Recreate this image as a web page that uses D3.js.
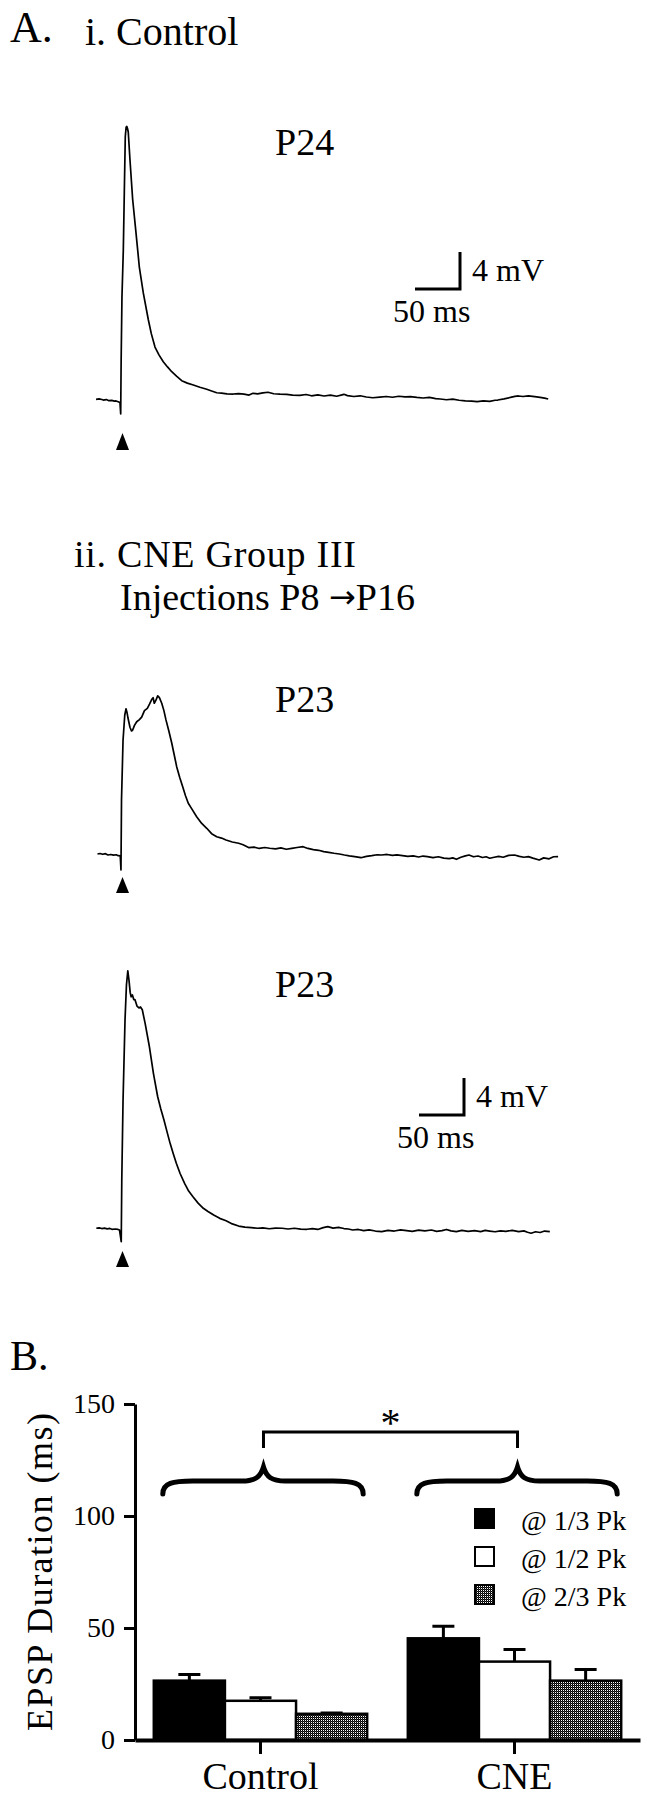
<!DOCTYPE html>
<html><head><meta charset="utf-8">
<script src="https://cdn.jsdelivr.net/npm/d3@7"></script>
<style>
body{margin:0;background:#fff}
svg{display:block;background:#fff}
text{font-family:"Liberation Serif","Times New Roman",serif;fill:#000}
</style>
</head><body>
<svg id="chart" width="647" height="1800"></svg>
<script>
// ---------- DATA ----------
// Traces: [time (ms, 0 = stimulus), voltage (mV above resting baseline)]
const traceP24 = [[-27.4,0],[-24,0.05],[-21,-0.02],[-19.3,-0.08],[-16,-0.03],[-13,-0.15],[-10,-0.12],[-7,-0.2],[-5.2,-0.18],[-2,-0.3],[-0.8,-0.37],[0,-1.59],[0.5,4.25],[1.4,11.06],[2.9,16.1],[4.0,22.3],[5.1,28.4],[6.0,29.4],[6.7,29.5],[7.5,29.3],[8.4,28.9],[10.3,25.9],[13.3,21.6],[17,18.0],[20.7,14.3],[25.1,11.5],[30.7,8.6],[34,7.1],[38.1,5.65],[42.5,4.8],[47.3,4.06],[52,3.5],[56.7,2.98],[62,2.5],[67.8,2.01],[74,1.75],[80.7,1.55],[88,1.3],[95.6,1.08],[101,0.9],[106.7,0.71],[112,0.66],[118,0.58],[125,0.57],[131,0.62],[137,0.55],[142.6,0.46],[147,0.65],[152,0.58],[158,0.7],[163.7,0.76],[170,0.6],[177,0.55],[184.4,0.54],[191,0.46],[199,0.43],[206,0.52],[212,0.38],[219,0.47],[226,0.36],[233,0.45],[240,0.33],[248,0.54],[252,0.4],[259,0.3],[266,0.38],[273,0.25],[280,0.17],[288,0.24],[295,0.3],[302,0.22],[309,0.33],[316,0.26],[322,0.28],[329,0.2],[336,0.14],[343,0.2],[350,0.08],[355,0.03],[362,-0.05],[369,0.02],[376,-0.1],[383,-0.16],[390,-0.2],[396,-0.26],[403,-0.18],[410,-0.22],[416,-0.1],[419,-0.08],[426,0.05],[433,0.2],[438,0.32],[442,0.36],[447,0.3],[453,0.38],[460,0.28],[466,0.2],[471,0.12],[475,0.03]];

const traceP23a = [[-25.8,0],[-23,0.05],[-20,-0.03],[-17,0.04],[-14.1,-0.11],[-11,-0.05],[-8,-0.12],[-5,-0.08],[-2.7,-0.18],[-0.5,-0.2],[0.3,-1.73],[0.9,5.84],[2.6,12.3],[4.5,15.0],[5.9,15.7],[7,15.3],[8.1,14.7],[10.3,13.7],[12,13.3],[13.3,13.4],[15.3,13.9],[17.8,14.3],[20.5,14.5],[23.3,14.8],[26.4,15.5],[29.6,15.75],[32,16.2],[34.4,16.7],[36,16.9],[37.3,16.3],[39,16.6],[41.1,17.1],[43,16.9],[45.6,16.3],[48,15.5],[50.3,14.5],[53.5,13.3],[56.7,12.0],[59.5,10.7],[62.2,9.44],[65.5,8.3],[68.9,7.28],[72,6.3],[75.1,5.48],[79.5,4.8],[84.4,4.03],[90,3.3],[95.6,2.78],[101,2.2],[106.7,1.87],[112,1.72],[117,1.51],[124,1.3],[131,1.16],[136,1.0],[142.6,0.68],[148,0.75],[154,0.6],[160,0.7],[165.6,0.62],[172,0.55],[178,0.66],[184,0.51],[190,0.6],[196,0.7],[202.6,0.79],[208,0.6],[214,0.48],[220,0.4],[225.6,0.25],[231,0.18],[237,0.08],[243,0.0],[248.6,-0.11],[254,-0.2],[260,-0.28],[267,-0.4],[273,-0.25],[279,-0.18],[285,-0.08],[290,-0.11],[296,-0.05],[302,-0.15],[307,-0.1],[313,-0.18],[319,-0.25],[325,-0.2],[331,-0.32],[336,-0.22],[340.8,-0.29],[347,-0.4],[353,-0.3],[359,-0.45],[365,-0.5],[369,-0.42],[373,-0.57],[378,-0.35],[383,-0.2],[387,-0.11],[392,-0.3],[397,-0.22],[402,-0.38],[406,-0.3],[410,-0.46],[415,-0.35],[420,-0.25],[425,-0.35],[431,-0.15],[437.6,-0.11],[443,-0.25],[448,-0.35],[453,-0.28],[458,-0.45],[465,-0.65],[470,-0.42],[476,-0.52],[481,-0.3],[486,-0.29]];

const traceP23b = [[-27.1,0.08],[-24,0.12],[-21,0.05],[-18,0.1],[-15,0.02],[-12,0.06],[-9.7,-0.03],[-6,0.0],[-3,-0.05],[-1.3,-0.11],[0.6,-1.37],[1.2,5.3],[2.6,13.9],[4.8,22.6],[6.4,26.4],[7.9,27.9],[9.2,26.9],[10.5,25.6],[11.6,25.1],[13,25.3],[14.5,24.8],[15.8,24.8],[18.1,24.1],[20.3,23.9],[22,24.0],[24,23.7],[27.2,22.2],[31.9,19.7],[36.4,16.8],[41.1,14.3],[44.5,13.0],[48,11.8],[51.5,10.5],[54.9,9.26],[58.5,8.1],[61.8,7.1],[66,6.0],[71,4.94],[75.5,4.1],[80.3,3.49],[86,2.8],[91.8,2.24],[97,1.9],[103.3,1.51],[110,1.15],[117.1,0.9],[124,0.55],[131,0.32],[138,0.2],[145,0.15],[151.8,0.08],[158,0.12],[165,0.03],[172,0.1],[179.4,0.08],[186,0.0],[193,0.08],[200,-0.02],[207,-0.03],[213,0.05],[219,-0.05],[225,0.15],[230.1,0.25],[236,0.1],[242,0.18],[248,0.05],[253,0.0],[257.8,-0.11],[264,-0.05],[270,-0.18],[276,-0.1],[283,-0.22],[290,-0.29],[297,-0.15],[304,-0.22],[311,-0.1],[317.7,-0.18],[324,-0.25],[331,-0.12],[338,-0.2],[345.3,-0.11],[351,-0.25],[357,-0.18],[362,-0.05],[367,-0.2],[373,-0.29],[379,-0.15],[386,-0.25],[393,-0.18],[400,-0.28],[405,-0.15],[409.9,-0.22],[416,-0.3],[422,-0.2],[428,-0.25],[435,-0.15],[442.2,-0.29],[448,-0.2],[452,-0.35],[456,-0.46],[461,-0.3],[466,-0.38],[471,-0.22],[476.8,-0.29]];

const scaleBarMs = 50;
const scaleBarMv = 4;

// Bar chart
const groups = ["Control", "CNE"];
const seriesNames = ["@ 1/3 Pk", "@ 1/2 Pk", "@ 2/3 Pk"];
const meansControl = [26.5, 17.5, 11.7];
const meansCNE = [45.4, 35.0, 26.5];
const semControl = [2.7, 1.4, 0.4];
const semCNE = [5.4, 5.4, 5.0];
const yTicks = [0, 50, 100, 150];

// ---------- DRAWING ----------
const svg = d3.select("#chart");
const FONT = '"Liberation Serif","Times New Roman",serif';

function txt(x, y, s, size, anchor) {
  return svg.append("text").attr("x", x).attr("y", y).text(s)
    .style("font-size", size + "px").attr("text-anchor", anchor || "start");
}

// Panel A headings
txt(10, 42, "A.", 44);
txt(85, 45, "i. Control", 40);
txt(74, 567, "ii. CNE Group III", 38).attr("textLength", 282);
const h3 = svg.append("text").attr("x", 120).attr("y", 610).style("font-size", "38px");
h3.append("tspan").text("Injections P8 ");
h3.append("tspan").style("font-family", '"DejaVu Sans",sans-serif').style("font-size", "32px")
  .attr("dy", -2).text("\u2192");
h3.append("tspan").attr("dy", 2).text("P16");
txt(10, 1370, "B.", 42);

// time scale shared by all traces (0.9 px per ms)
const xT = d3.scaleLinear().domain([0, 500]).range([120.7, 570.7]);
const pxPerMv = 9.25;

const panels = [
  {data: traceP24, base: 399.3, label: "P24", labelY: 155, arrowTop: 433, arrowBot: 450, bar: {x: 460, y: 289}},
  {data: traceP23a, base: 854, label: "P23", labelY: 712, arrowTop: 877, arrowBot: 893, bar: null},
  {data: traceP23b, base: 1229, label: "P23", labelY: 997, arrowTop: 1251, arrowBot: 1267, bar: {x: 464, y: 1115}}
];

panels.forEach(p => {
  const yT = d3.scaleLinear().domain([0, 4]).range([p.base, p.base - 4 * pxPerMv]);
  const line = d3.line().x(d => xT(d[0])).y(d => yT(d[1]));
  svg.append("path").datum(p.data).attr("d", line)
    .attr("fill", "none").attr("stroke", "#000").attr("stroke-width", 1.7)
    .attr("stroke-linejoin", "round");
  txt(275, p.labelY, p.label, 38);
  const cx = xT(0) + 1.8;
  svg.append("path")
    .attr("d", `M${cx},${p.arrowTop}L${cx + 6.5},${p.arrowBot}L${cx - 6.5},${p.arrowBot}Z`)
    .attr("fill", "#000");
  if (p.bar) {
    const w = xT(scaleBarMs) - xT(0);
    const h = yT(0) - yT(scaleBarMv);
    svg.append("path")
      .attr("d", `M${p.bar.x - w},${p.bar.y}H${p.bar.x}V${p.bar.y - h}`)
      .attr("fill", "none").attr("stroke", "#000").attr("stroke-width", 3);
    txt(p.bar.x + 12, p.bar.y - 8, scaleBarMv + " mV", 32);
    txt(p.bar.x - 67, p.bar.y + 33, scaleBarMs + " ms", 32);
  }
});

// ---------- Panel B ----------
const defs = svg.append("defs");
const pat = defs.append("pattern").attr("id", "stip").attr("patternUnits", "userSpaceOnUse")
  .attr("width", 2).attr("height", 2);
pat.append("rect").attr("width", 2).attr("height", 2).attr("fill", "#fff");
pat.append("rect").attr("x", 0).attr("y", 0).attr("width", 1).attr("height", 1).attr("fill", "#000");
pat.append("rect").attr("x", 1).attr("y", 1).attr("width", 1).attr("height", 1).attr("fill", "#000");
pat.append("rect").attr("x", 0).attr("y", 1).attr("width", 1).attr("height", 1).attr("fill", "#333");
const fills = ["#000", "#fff", "url(#stip)"];

const yB = d3.scaleLinear().domain([0, 150]).range([1740, 1404]);
const x0 = d3.scaleBand().domain(groups).range([135, 640]).paddingInner(0.16).paddingOuter(0.074);
const x1 = d3.scaleBand().domain(seriesNames).range([0, x0.bandwidth()]);

const barData = [];
groups.forEach((g, gi) => {
  const m = gi === 0 ? meansControl : meansCNE;
  const s = gi === 0 ? semControl : semCNE;
  seriesNames.forEach((n, si) => barData.push({g, n, si, mean: m[si], sem: s[si]}));
});

barData.forEach(d => {
  const cx = x0(d.g) + x1(d.n) + x1.bandwidth() / 2;
  const yTop = yB(d.mean + d.sem);
  svg.append("path").attr("d", `M${cx},${yB(d.mean)}V${yTop}M${cx - 11},${yTop}H${cx + 11}`)
    .attr("stroke", "#000").attr("stroke-width", 3).attr("fill", "none");
});

svg.append("g").selectAll("rect").data(barData).join("rect")
  .attr("x", d => x0(d.g) + x1(d.n))
  .attr("y", d => yB(d.mean))
  .attr("width", x1.bandwidth())
  .attr("height", d => yB(0) - yB(d.mean))
  .attr("fill", d => fills[d.si])
  .attr("stroke", "#000").attr("stroke-width", 2.5);

const yAxis = svg.append("g").attr("transform", "translate(135,0)")
  .call(d3.axisLeft(yB).tickValues(yTicks).tickSize(11).tickSizeOuter(0).tickPadding(9));
yAxis.select(".domain").attr("stroke-width", 3);
yAxis.selectAll(".tick line").attr("stroke-width", 3);
yAxis.selectAll("text").style("font-size", "28px").style("font-family", FONT);

const xAxis = svg.append("g").attr("transform", "translate(0,1740)")
  .call(d3.axisBottom(x0).tickSize(14).tickSizeOuter(0).tickPadding(8));
xAxis.select(".domain").attr("stroke-width", 4);
xAxis.selectAll(".tick line").attr("stroke-width", 3);
xAxis.selectAll("text").style("font-size", "38px").style("font-family", FONT);

svg.append("text").attr("transform", "translate(52,1572) rotate(-90)")
  .attr("text-anchor", "middle").style("font-size", "36px")
  .attr("textLength", 318).text("EPSP Duration (ms)");

const yTip = 1467, yBody = 1481, yEnd = 1494;
groups.forEach(g => {
  const a = x0(g) + 9, b = x0(g) + x0.bandwidth() - 4, t = x0(g) + x0.bandwidth() / 2 + 3;
  const dPath = `M${a},${yEnd}C${a},${yBody + 2} ${a + 10},${yBody} ${a + 30},${yBody}` +
    `L${t - 22},${yBody}C${t - 8},${yBody} ${t - 3},${yBody - 4} ${t},${yTip}` +
    `C${t + 3},${yBody - 4} ${t + 8},${yBody} ${t + 22},${yBody}` +
    `L${b - 30},${yBody}C${b - 10},${yBody} ${b},${yBody + 2} ${b},${yEnd}`;
  svg.append("path").attr("d", dPath).attr("fill", "none").attr("stroke", "#000")
    .attr("stroke-width", 5).attr("stroke-linecap", "round");
});

const c1 = x0("Control") + x0.bandwidth() / 2 + 3;
const c2 = x0("CNE") + x0.bandwidth() / 2 + 3;
svg.append("path").attr("d", `M${c1},1448V1432H${c2}V1448`)
  .attr("fill", "none").attr("stroke", "#000").attr("stroke-width", 3);
txt((c1 + c2) / 2, 1436, "*", 40, "middle");

seriesNames.forEach((n, i) => {
  const y = [1509, 1547, 1585][i];
  svg.append("rect").attr("x", 475).attr("y", y).attr("width", 19).attr("height", 19)
    .attr("fill", fills[i]).attr("stroke", "#000").attr("stroke-width", 2);
  txt(521, y + 21, n, 28);
});
</script>
</body></html>
